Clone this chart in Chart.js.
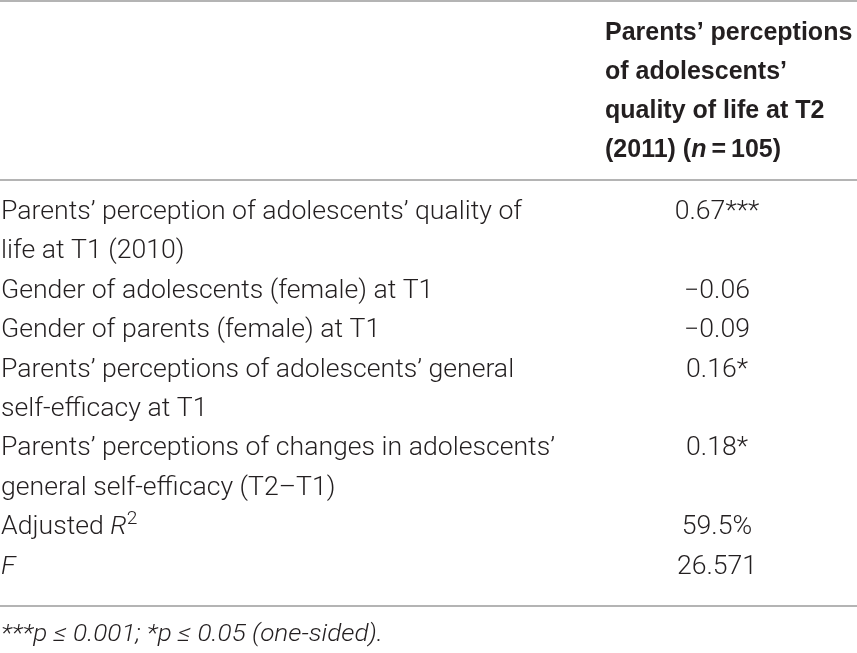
<!DOCTYPE html>
<html>
<head>
<meta charset="utf-8">
<script src="https://cdn.jsdelivr.net/npm/chart.js@4.4.1/dist/chart.umd.min.js"></script>
<style>
  html, body { margin: 0; padding: 0; background: #fff; }
  #table { display: block; }
</style>
</head>
<body>
<canvas id="table" width="857" height="653"></canvas>
<script>
// ================= DATA =================
// _x_ = italic, ^x = superscript
const headerLines = ["Parents’ perceptions", "of adolescents’", "quality of life at T2", "(2011) (_n_\u2009=\u2009105)"];
const rowLabels = [
  ["Parents’ perception of adolescents’ quality of", "life at T1 (2010)"],
  ["Gender of adolescents (female) at T1"],
  ["Gender of parents (female) at T1"],
  ["Parents’ perceptions of adolescents’ general", "self-efficacy at T1"],
  ["Parents’ perceptions of changes in adolescents’", "general self-efficacy (T2–T1)"],
  ["Adjusted _R_^2"],
  ["_F_"]
];
const coefficients = ["0.67***", "−0.06", "−0.09", "0.16*", "0.18*", "59.5%", "26.571"];
const footnote = "_***p ≤ 0.001; *p ≤ 0.05 (one-sided)._";

// ================= LAYOUT / STYLE =================
const W = 857, H = 653;
// y values are text baselines
const layout = {
  headerFirst: 40, headerStep: 39,
  bodyFirst: 219, bodyStep: 39.4,
  rules: [1, 180, 606],
  footY: 641,
  labelX: 1, headerX: 605, valueX: 717
};
const textColor = "#231f20";
const ruleColor = "#b4b4b4";
const bodyFont = { size: 25, weight: "300", family: "Roboto, 'Liberation Sans', sans-serif", stretch: 1.065 };
const headFont = { size: 25, weight: "bold", family: "'Liberation Sans', Arial, sans-serif", stretch: 1.0 };
const footFont = { size: 24, weight: "300", family: "Roboto, 'Liberation Sans', sans-serif", stretch: 1.09 };

// build text cells (one per printed line)
const cells = [];
headerLines.forEach((t, i) => {
  cells.push({ x: layout.headerX, y: layout.headerFirst + i * layout.headerStep, text: t, font: headFont, align: "left" });
});
let line = 0;
rowLabels.forEach((lines, r) => {
  const y0 = layout.bodyFirst + line * layout.bodyStep;
  lines.forEach((t, k) => {
    cells.push({ x: layout.labelX, y: layout.bodyFirst + (line + k) * layout.bodyStep, text: t, font: bodyFont, align: "left" });
  });
  cells.push({ x: layout.valueX, y: y0, text: coefficients[r], font: bodyFont, align: "center" });
  line += lines.length;
});
cells.push({ x: layout.labelX, y: layout.footY, text: footnote, font: footFont, align: "left" });

// rules as line datasets
const ruleSets = layout.rules.map(r => ({
  type: "line",
  data: [{ x: 0, y: r }, { x: W, y: r }],
  borderColor: ruleColor,
  borderWidth: 2,
  pointRadius: 0
}));

// ================= RICH TEXT =================
function parseRich(str) {
  const segs = [];
  let italic = false, i = 0, buf = "";
  const flush = (sup) => { if (buf) segs.push({ t: buf, italic, sup: !!sup }); buf = ""; };
  while (i < str.length) {
    const c = str[i];
    if (c === "_") { flush(); italic = !italic; i++; }
    else if (c === "^") { flush(); buf = str[i + 1]; flush(true); i += 2; }
    else { buf += c; i++; }
  }
  flush();
  return segs;
}

function fontStr(f, seg) {
  const size = seg.sup ? Math.round(f.size * 0.7) : f.size;
  return (seg.italic ? "italic " : "") + f.weight + " " + size + "px " + f.family;
}

function drawRich(ctx, str, x, y, f, align) {
  const segs = parseRich(str);
  const sx = f.stretch || 1;
  let total = 0;
  segs.forEach(s => { ctx.font = fontStr(f, s); s.w = ctx.measureText(s.t).width; total += s.w; });
  const x0 = align === "center" ? x - total * sx / 2 : x;
  ctx.save();
  ctx.translate(x0, y);
  ctx.scale(sx, 1);
  let cx = 0;
  segs.forEach(s => {
    ctx.font = fontStr(f, s);
    ctx.fillText(s.t, cx, s.sup ? -f.size * 0.4 : 0);
    cx += s.w;
  });
  ctx.restore();
}

const tableText = {
  id: "tableText",
  afterDatasetsDraw(chart) {
    const ctx = chart.ctx;
    const meta = chart.getDatasetMeta(0);
    ctx.save();
    ctx.fillStyle = textColor;
    ctx.textBaseline = "alphabetic";
    ctx.textAlign = "left";
    meta.data.forEach((pt, i) => {
      const c = chart.data.datasets[0].data[i];
      drawRich(ctx, c.text, pt.x, pt.y, c.font, c.align);
    });
    ctx.restore();
  }
};

new Chart(document.getElementById("table"), {
  type: "scatter",
  data: {
    datasets: [
      { data: cells, pointRadius: 0, pointHoverRadius: 0 },
      ...ruleSets
    ]
  },
  options: {
    responsive: false,
    animation: false,
    devicePixelRatio: 1,
    layout: { padding: 0 },
    plugins: { legend: { display: false }, tooltip: { enabled: false } },
    scales: {
      x: { type: "linear", min: 0, max: W, display: false },
      y: { type: "linear", min: 0, max: H, reverse: true, display: false }
    }
  },
  plugins: [tableText]
});
</script>
</body>
</html>
